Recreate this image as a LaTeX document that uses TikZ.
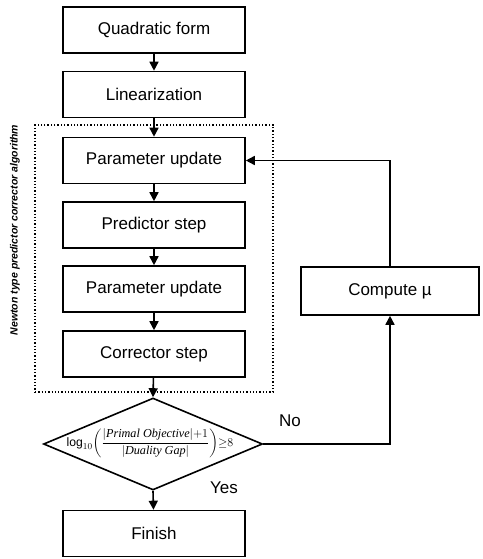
\documentclass[tikz,border=0pt]{standalone}
\usepackage{amsmath}
\usepackage{fontspec}
\setmainfont{Liberation Sans}
\newfontfamily\tmsfont{Liberation Serif}
\usetikzlibrary{arrows.meta,shapes.geometric}
\begin{document}
\begin{tikzpicture}[x=1pt,y=-1pt,
  box/.style={draw,line width=1.6pt,minimum width=182pt,minimum height=46pt,inner sep=0pt,font=\fontsize{17}{19}\selectfont},
  arr/.style={line width=1.6pt,-{Triangle[width=9pt,length=9pt]}},
  lbl/.style={font=\fontsize{17}{19}\selectfont,inner sep=0pt},
]
\useasboundingbox (0,0) rectangle (482,559);
\node[box] (q) at (154,30) {Quadratic form};
\node[box] (l) at (154,94.5) {Linearization};
\node[draw,dotted,line width=1.3pt,minimum width=238pt,minimum height=267pt,inner sep=0pt] (grp) at (154,258.5) {};
\node[rotate=90,inner sep=0pt,font=\bfseries\itshape\fontsize{10.5}{12}\selectfont] (gl) at (15,230) {Newton type predictor corrector algorithm};
\node[box] (p1) at (154,160.5) {Parameter update};
\node[box] (ps) at (154,225) {Predictor step};
\node[box] (p2) at (154,289) {Parameter update};
\node[box] (cs) at (154,354) {Corrector step};
\node[draw,diamond,line width=1.6pt,minimum width=219pt,minimum height=92pt,inner sep=0pt] (d) at (153,444) {};
\node[inner sep=0pt,font=\fontsize{12.2}{14}\selectfont] (fm) at (150,443)
  {$\log_{10}\!\left(\dfrac{|\text{\tmsfont\itshape Primal Objective}|{+}1}{|\text{\tmsfont\itshape Duality Gap}|}\right)\!{\geq}8$};
\node[box] (f) at (154,533.5) {Finish};
\node[box,minimum width=178pt,minimum height=48pt] (c) at (390,291) {Compute µ};
\node[lbl] (no) at (290,421) {No};
\node[lbl] (yes) at (224,488) {Yes};
\draw[arr] (q) -- (l);
\draw[arr] (l) -- (p1);
\draw[arr] (p1) -- (ps);
\draw[arr] (ps) -- (p2);
\draw[arr] (p2) -- (cs);
\draw[arr] (cs) -- (d.north);
\draw[arr] (d.south) -- (f);
\draw[arr] (d.east) -| (c.south);
\draw[arr] (c.north) |- (p1.east);
\end{tikzpicture}
\end{document}
